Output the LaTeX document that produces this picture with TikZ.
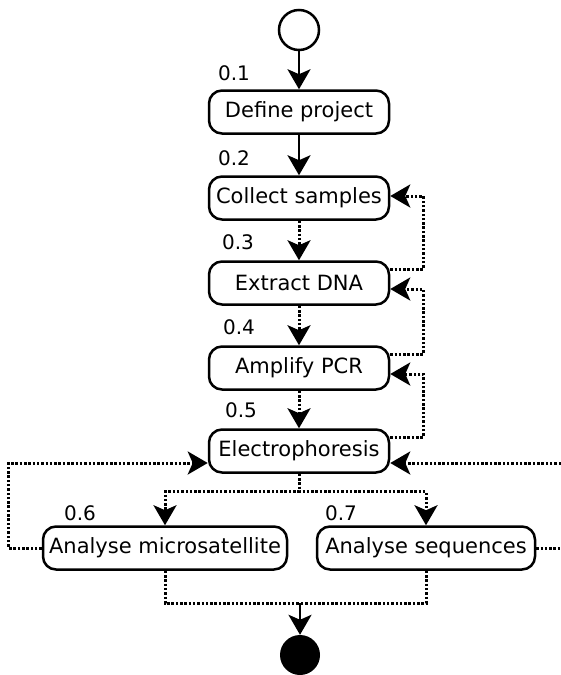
\documentclass[tikz,border=0pt]{standalone}
\usepackage{fontspec}
\setmainfont{DejaVu Sans}
\usetikzlibrary{arrows.meta}

\tikzset{
    act/.style={draw,line width=2.5pt,rounded corners=13pt,minimum width=180pt,
        minimum height=43pt,inner sep=2pt,font=\fontsize{21}{24}\selectfont},
    num/.style={font=\fontsize{20}{24}\selectfont},
    flow/.style={line width=2.8pt,-{Stealth[length=20pt,width=23pt,inset=5pt]}},
    dflow/.style={line width=3pt,dash pattern=on 2.5pt off 1.8pt,
        -{Stealth[length=20pt,width=23pt,inset=5pt]}},
    dline/.style={line width=3pt,dash pattern=on 2.5pt off 1.8pt}
}

\begin{document}
\begin{tikzpicture}[x=1pt,y=-1pt]
        \useasboundingbox (0,0) rectangle (561,675);

        % start and end
        \node[draw,circle,line width=2.5pt,minimum size=40pt,inner sep=0pt] (start) at (299,30) {};
        \node[fill,circle,minimum size=40pt,inner sep=0pt] (stop) at (300,655) {};

        % activities
        \node[act] (define) at (299,112) {Define project};
        \node[act] (collect) at (299,198) {Collect samples};
        \node[act] (extract) at (299,283) {Extract DNA};
        \node[act] (amplify) at (299,368) {Amplify PCR};
        \node[act] (electro) at (299,451) {Electrophoresis};
        \node[act,minimum width=244pt] (micro) at (165,548) {Analyse microsatellite};
        \node[act,minimum width=218pt] (seq) at (426,548) {Analyse sequences};

        % numbers
        \node[num] (n1) at (234,73) {0.1};
        \node[num] (n2) at (234,158) {0.2};
        \node[num] (n3) at (238,242) {0.3};
        \node[num] (n4) at (239,327) {0.4};
        \node[num] (n5) at (241,410) {0.5};
        \node[num] (n6) at (80,513) {0.6};
        \node[num] (n7) at (341,513) {0.7};

        % main flow
        \draw[flow] (start) -- (define);
        \draw[flow] (define) -- (collect);
        \draw[dflow] (collect) -- (extract);
        \draw[dflow] (extract) -- (amplify);
        \draw[dflow] (amplify) -- (electro);

        % loops back
        \draw[dflow] ([yshift=14pt]extract.east) -- ++(33,0) |- ([yshift=2pt]collect.east);
        \draw[dflow] ([yshift=14pt]amplify.east) -- ++(33,0) |- ([yshift=-6pt]extract.east);
        \draw[dflow] ([yshift=14pt]electro.east) -- ++(33,0) |- ([yshift=-6pt]amplify.east);

        % split
        \draw[dflow] (electro.south) -- ++(0,18) -| (micro.north);
        \draw[dflow] (electro.south) -- ++(0,18) -| (seq.north);

        % back to electrophoresis
        \draw[dflow] (micro.west) -- ++(-33,0) |- ([yshift=-12pt]electro.west);
        \coordinate (rin) at (561,463);
        \coordinate (rout) at (561,548);
        \draw[dflow] (rin) -- ([yshift=-12pt]electro.east);
        \draw[dline] (seq.east) -- (rout);

        % join
        \coordinate (join) at (300,603);
        \draw[dline] (micro.south) |- (join);
        \draw[dline] (seq.south) |- (join);
        \draw[flow] (join) -- (stop);
    \end{tikzpicture}
\end{document}
